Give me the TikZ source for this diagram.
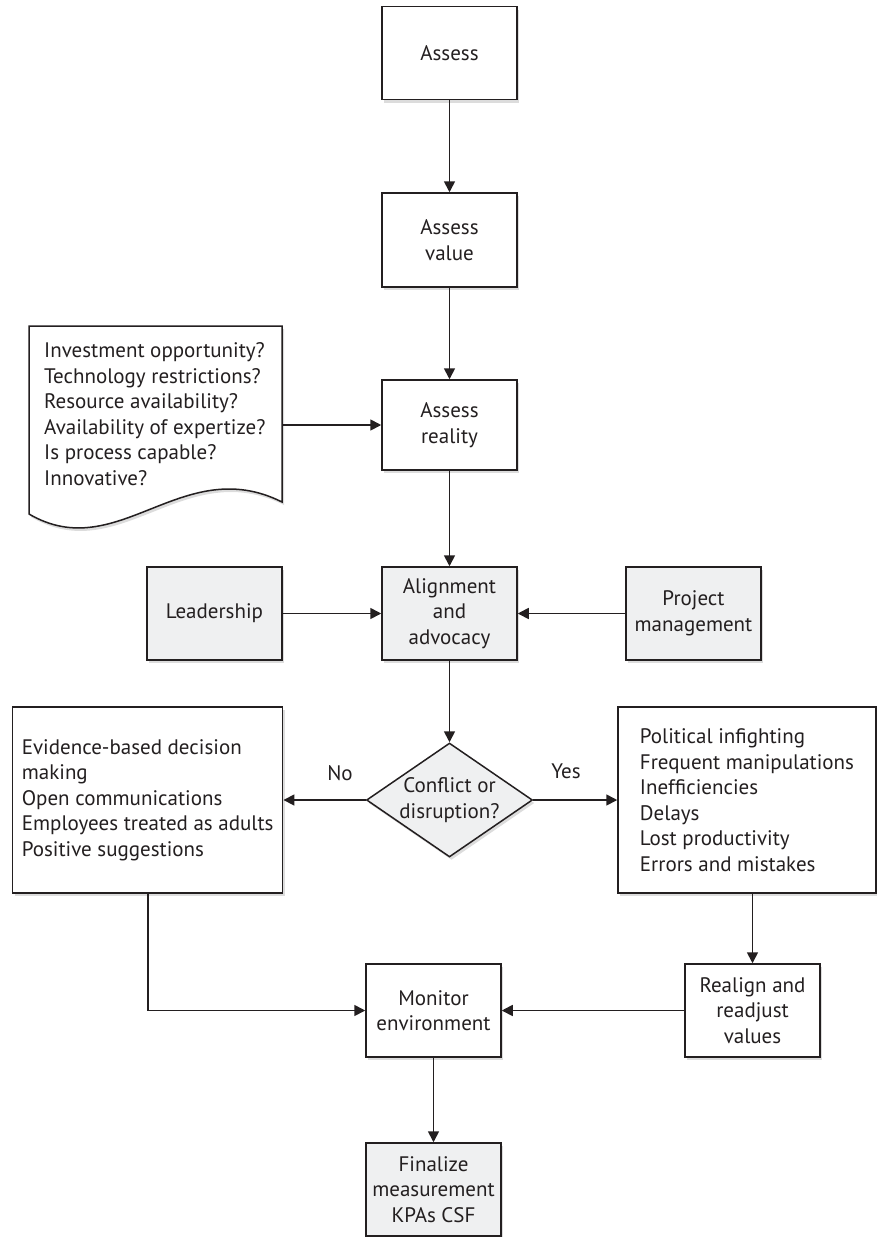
\documentclass[tikz,border=0pt]{standalone}
\usepackage{fontspec}
\setmainfont{PT Sans}
\usetikzlibrary{arrows.meta,shapes.geometric,shadows}
\definecolor{ink}{HTML}{231F20}
\definecolor{boxgray}{HTML}{EFF0F1}
\definecolor{shade}{HTML}{DCDCDC}
\tikzset{
  txt/.style={font=\fontsize{21}{25.5}\selectfont, text=ink},
  base/.style={txt, draw=ink, line width=1.5pt, fill=white, inner sep=0pt,
    drop shadow={shadow xshift=2pt, shadow yshift=-3pt, fill=shade, opacity=1}},
  stepbox/.style={base, rectangle, minimum width=135pt, minimum height=93pt, align=center},
  grayfill/.style={fill=boxgray},
  listbox/.style={base, rectangle, minimum height=186pt, align=left},
  conn/.style={draw=ink, line width=1.7pt, -{Triangle[length=11pt,width=11pt]}},
}
\begin{document}
\begin{tikzpicture}[x=1pt,y=-1pt]
\useasboundingbox (0,0) rectangle (877,1237);

% main column
\node[stepbox] (assess) at (449.5,53) {Assess};
\node[stepbox, minimum height=94pt] (value) at (449.5,240) {Assess\\value};
\node[stepbox, minimum height=90pt] (reality) at (449.5,425) {Assess\\reality};

% document with the open questions
\draw[draw=ink, line width=1.5pt, fill=white,
  drop shadow={shadow xshift=2pt, shadow yshift=-3pt, fill=shade, opacity=1}]
  (29,326) -- (282,326) -- (282,502)
  .. controls (182,452) and (118,566) .. (29,514) -- cycle;
\node[txt, align=left, anchor=west, inner sep=0pt] (questions) at (44,414)
  {Investment opportunity?\\Technology restrictions?\\Resource availability?\\
   Availability of expertize?\\Is process capable?\\Innovative?};
\coordinate (docR) at (282,425);

% alignment row
\node[stepbox, grayfill] (lead) at (214.5,613.5) {Leadership};
\node[stepbox, grayfill] (align) at (449.5,613.5) {Alignment\\and\\advocacy};
\node[stepbox, grayfill] (pm) at (693.5,613.5) {Project\\management};

% decision
\node[base, diamond, aspect=1.456, minimum width=166pt, minimum height=114pt,
  fill=boxgray] (conf) at (449.5,800) {};
\node[txt, align=center, inner sep=0pt] (conftext) at (conf.center) {Conflict or\\disruption?};

\node[listbox, minimum width=270pt] (nobox) at (147.7,800)
  {Evidence-based decision\\making\\Open communications\\Employees treated as adults\\Positive suggestions};
\node[listbox, minimum width=258pt] (yesbox) at (747,800)
  {Political infighting\\Frequent manipulations\\Inefficiencies\\Delays\\Lost productivity\\Errors and mistakes};

\node[txt] (nolabel) at (340,773) {No};
\node[txt] (yeslabel) at (566,771) {Yes};

% follow-up
\node[stepbox] (monitor) at (433.5,1010.5) {Monitor\\environment};
\node[stepbox] (realign) at (752.5,1010.5) {Realign and\\readjust\\values};
\node[stepbox, grayfill] (final) at (433.5,1189.5) {Finalize\\measurement\\KPAs CSF};

% connectors
\draw[conn] (assess) -- (value);
\draw[conn] (value) -- (reality);
\draw[conn] (docR) -- (reality);
\draw[conn] (reality) -- (align);
\draw[conn] (lead) -- (align);
\draw[conn] (pm) -- (align);
\draw[conn] (align) -- (conf);
\draw[conn] (conf) -- (nobox);
\draw[conn] (conf) -- (yesbox);
\draw[conn] (yesbox.south -| realign) -- (realign);
\draw[conn] (nobox.south) |- (monitor);
\draw[conn] (realign) -- (monitor);
\draw[conn] (monitor) -- (final);
\end{tikzpicture}
\end{document}
